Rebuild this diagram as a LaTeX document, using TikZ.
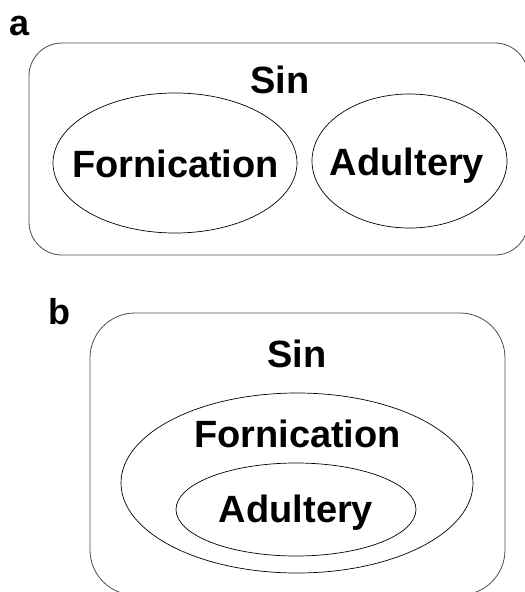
\documentclass[tikz,border=0pt]{standalone}
\usepackage{fontspec}
\setmainfont{Liberation Sans}
\usetikzlibrary{shapes.geometric}
\tikzset{
  setbox/.style={draw=black!70, line width=0.8pt, rounded corners=#1, inner sep=0pt},
  setell/.style={draw=black, line width=0.7pt, ellipse, inner sep=0pt},
  lab/.style={anchor=base, inner sep=0pt, font=\fontsize{38}{45}\selectfont\bfseries},
  panel/.style={anchor=base, inner sep=0pt, font=\fontsize{36}{43}\selectfont\bfseries}
}
\begin{document}
\begin{tikzpicture}[x=1pt,y=-1pt]
\useasboundingbox (0,0) rectangle (525,592);
% panel a
\node[panel] (la) at (19.5,35) {a};
\node[setbox=33pt, minimum width=499pt, minimum height=212pt] (sinA) at (278.5,149) {};
\node[setell, minimum width=244pt, minimum height=140pt] (fornA) at (175,163) {};
\node[setell, minimum width=195pt, minimum height=134pt] (adulA) at (409.5,161) {};
\node[lab] (tsinA) at (280,93) {Sin};
\node[lab] (tfornA) at (175.5,177) {Fornication};
\node[lab] (tadulA) at (407,175) {Adultery};
% panel b
\node[panel] (lb) at (59,324) {b};
\node[setbox=45pt, minimum width=415pt, minimum height=282pt] (sinB) at (297.5,454) {};
\node[setell, minimum width=352pt, minimum height=180pt] (fornB) at (297,483) {};
\node[setell, minimum width=240pt, minimum height=93pt] (adulB) at (296,509.5) {};
\node[lab] (tsinB) at (297,367) {Sin};
\node[lab] (tfornB) at (297.5,447) {Fornication};
\node[lab] (tadulB) at (296,522) {Adultery};
\end{tikzpicture}
\end{document}
